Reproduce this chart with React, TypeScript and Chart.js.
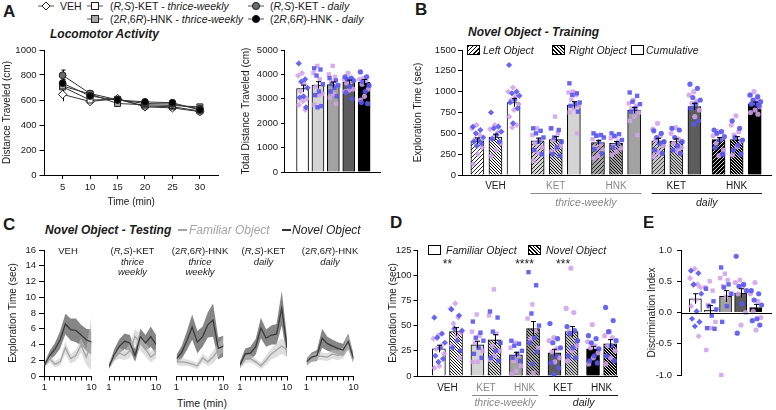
import React, { useEffect, useRef } from 'react';
import { Chart, registerables } from 'chart.js';

Chart.register(...registerables);

const FONT = "'Liberation Sans', Arial, Helvetica, sans-serif";
Chart.defaults.font.family = FONT;
Chart.defaults.color = '#1a1a1a';

/* ======================= DATA ======================= */
const GROUP_LABELS = ['VEH', 'KET', 'HNK', 'KET', 'HNK'];

// A – locomotor activity, 5-min bins
const A_TIME = [5, 10, 15, 20, 25, 30];
const A_VEH = [645, 588, 612, 545, 537, 507];
const A_KET_THRICE = [705, 600, 605, 552, 546, 512];
const A_HNK_THRICE = [712, 648, 572, 562, 556, 545];
const A_KET_DAILY = [798, 652, 602, 572, 568, 530];
const A_HNK_DAILY = [735, 632, 600, 585, 578, 520];
const A_VEH_SEM = [55, 22, 15, 14, 12, 12];
const A_KET_THRICE_SEM = [30, 20, 15, 14, 12, 12];
const A_HNK_THRICE_SEM = [30, 18, 14, 12, 12, 12];
const A_KET_DAILY_SEM = [42, 18, 14, 12, 12, 12];
const A_HNK_DAILY_SEM = [30, 18, 14, 12, 12, 12];

// A – total distance
const A_TOTAL = [3420, 3560, 3580, 3680, 3680];
const A_TOTAL_SEM = [140, 140, 110, 85, 110];
const A_TOTAL_BLUE = [
  [4450, 3800, 3700, 3450, 3100, 3050, 2650],
  [4250, 4200, 3950, 3600, 3300, 3150, 2700, 2650],
  [3850, 3750, 3600, 3550, 3450, 3300, 3100],
  [3900, 3850, 3800, 3750, 3500, 3250, 3000],
  [4100, 3900, 3700, 3550, 3300, 2850, 2800],
];
const A_TOTAL_PINK = [
  [4050, 3950, 3600, 3300, 3000, 2900, 2750, 2550],
  [4350, 4050, 3800, 3500, 3200, 3150, 2750],
  [4350, 4000, 3900, 3700, 3550, 3200, 3050, 2800],
  [4050, 3800, 3700, 3650, 3400, 3350, 3300],
  [3850, 3800, 3750, 3600, 3400, 3100, 2950],
];

// B – training
const B_LEFT = [410, 410, 390, 410, 425];
const B_RIGHT = [455, 425, 380, 405, 425];
const B_CUM = [870, 840, 775, 820, 855];
const B_LEFT_SEM = [35, 32, 25, 30, 25];
const B_RIGHT_SEM = [35, 35, 22, 28, 35];
const B_CUM_SEM = [50, 40, 35, 40, 20];
const B_LEFT_BLUE = [[580, 540, 500, 450, 420, 400, 380, 350], [560, 530, 500, 450, 400, 300, 250], [500, 480, 470, 450, 400, 310, 260], [530, 500, 450, 400, 380, 300, 260], [540, 520, 500, 460, 420, 330, 250]];
const B_LEFT_PINK = [[600, 560, 480, 430, 330, 250, 130], [560, 480, 430, 380, 330, 260, 170], [480, 430, 370, 330, 300, 230, 200], [620, 550, 470, 420, 350, 270, 220], [520, 470, 430, 380, 300, 230]];
const B_RIGHT_BLUE = [[750, 580, 560, 520, 480, 430, 400], [560, 540, 450, 400, 330, 250, 230], [500, 490, 470, 420, 380, 330], [560, 540, 450, 400, 350, 300, 260], [650, 560, 450, 420, 360, 300, 250]];
const B_RIGHT_PINK = [[600, 550, 510, 450, 380, 300, 230], [700, 560, 500, 420, 350, 320, 280], [460, 440, 400, 350, 320, 280, 240], [570, 500, 430, 380, 330, 290], [710, 600, 520, 480, 410, 340, 240]];
const B_CUM_BLUE = [[1320, 1000, 980, 950, 900, 870, 800, 620], [1100, 980, 960, 870, 850, 830, 760], [990, 950, 880, 850, 800, 760], [1090, 1040, 930, 900, 850, 800, 650, 610], [960, 940, 900, 880, 860, 850, 830]];
const B_CUM_PINK = [[1050, 1000, 940, 900, 850, 780, 700, 600, 570], [1000, 990, 960, 900, 830, 800, 750, 500], [900, 860, 830, 800, 750, 700, 650, 480], [1000, 960, 880, 860, 780, 700], [1000, 960, 910, 870, 820, 780, 750, 730]];

// C – testing time course (per minute)
const C_MINUTES = [1, 2, 3, 4, 5, 6, 7, 8, 9, 10];
const C_TITLES = [['VEH'], ['(R,S)-KET', 'thrice', 'weekly'], ['(2R,6R)-HNK', 'thrice', 'weekly'], ['(R,S)-KET', 'daily'], ['(2R,6R)-HNK', 'daily']];
const C_NOVEL = [
  [1.4, 2.6, 3.4, 4.6, 6.6, 5.9, 5.8, 5.2, 4.6, 4.3],
  [1.2, 2.7, 3.8, 4.4, 4.2, 2.6, 5.0, 4.2, 5.0, 4.0],
  [2.2, 3.0, 4.5, 6.2, 4.3, 5.0, 6.5, 7.1, 3.5, 3.8],
  [1.4, 2.8, 2.9, 3.7, 6.1, 4.8, 5.2, 5.3, 8.6, 3.6],
  [1.8, 2.4, 2.6, 4.8, 4.1, 3.8, 3.5, 3.3, 4.4, 2.2],
];
const C_NOVEL_SEM = [
  [0.3, 0.6, 0.8, 1.1, 1.3, 1.4, 1.5, 1.3, 1.4, 1.6],
  [0.3, 0.7, 0.9, 1.0, 1.0, 0.8, 1.0, 1.0, 1.3, 1.2],
  [0.5, 0.8, 1.2, 1.6, 1.4, 1.3, 1.6, 2.1, 1.4, 1.3],
  [0.4, 0.7, 0.8, 1.0, 1.3, 1.1, 1.2, 1.3, 2.2, 1.3],
  [0.4, 0.6, 0.7, 1.2, 0.9, 0.8, 0.8, 0.8, 1.0, 0.6],
];
const C_FAMILIAR = [
  [1.5, 2.2, 1.5, 1.8, 3.6, 2.2, 2.6, 3.9, 2.4, 4.2],
  [1.4, 2.4, 2.9, 2.6, 3.2, 5.0, 4.2, 3.4, 2.4, 2.9],
  [1.8, 1.8, 1.7, 1.5, 1.3, 2.3, 1.8, 2.4, 3.3, 4.0],
  [1.3, 2.1, 2.2, 1.8, 1.3, 2.0, 2.8, 3.3, 3.8, 3.3],
  [1.6, 2.3, 2.5, 2.5, 2.4, 2.8, 2.6, 2.9, 4.3, 2.0],
];
const C_FAMILIAR_SEM = [
  [0.4, 0.5, 0.4, 0.5, 0.8, 0.6, 0.7, 0.9, 1.0, 3.5],
  [0.3, 0.5, 0.7, 0.6, 0.9, 1.0, 1.0, 0.9, 0.7, 0.6],
  [0.4, 0.5, 0.4, 0.4, 0.4, 0.6, 0.5, 0.8, 0.9, 0.9],
  [0.3, 0.5, 0.5, 0.4, 0.4, 0.6, 0.7, 0.9, 1.0, 0.9],
  [0.4, 0.5, 0.5, 0.5, 0.5, 0.6, 0.6, 0.7, 0.9, 0.5],
];

// D – testing totals
const D_FAM = [27, 31, 21, 23, 27];
const D_NOV = [44, 36, 47, 44, 32];
const D_FAM_SEM = [3.5, 3.5, 2.5, 3.5, 2.5];
const D_NOV_SEM = [4, 5, 7, 5, 4];
const D_STARS = ['**', '', '****', '***', ''];
const D_FAM_BLUE = [[58, 42, 38, 33, 28, 20, 17, 14], [54, 43, 38, 35, 28, 22, 18], [35, 32, 30, 25, 22, 18, 15], [52, 37, 33, 28, 20, 13, 8, 2], [40, 37, 33, 27, 20, 15, 13]];
const D_FAM_PINK = [[40, 37, 30, 27, 22, 10, 8], [61, 44, 40, 33, 25, 14, 14], [33, 28, 20, 15, 10, 5, 2], [38, 35, 27, 24, 18, 14], [51, 34, 30, 28, 23, 18, 12]];
const D_NOV_BLUE = [[66, 60, 47, 45, 35, 28, 25], [64, 58, 44, 33, 25, 18, 15], [103, 90, 62, 50, 38, 33, 24, 12], [49, 45, 42, 35, 28, 20, 18], [68, 55, 44, 35, 30, 20, 15]];
const D_NOV_PINK = [[72, 67, 58, 52, 43, 40, 30, 18], [86, 60, 42, 30, 25, 20, 16], [71, 57, 45, 37, 28, 3], [107, 67, 63, 44, 30, 25, 15], [44, 40, 38, 30, 25, 18, 12]];

// E – discrimination index
const E_DI = [0.22, 0.04, 0.26, 0.31, 0.08];
const E_SEM = [0.08, 0.07, 0.09, 0.07, 0.05];
const E_BLUE = [[0.67, 0.63, 0.45, 0.3, 0.02, -0.1, -0.15, -0.22], [0.38, 0.18, 0.1, 0.05, -0.05, -0.25, -0.26], [0.72, 0.45, 0.4, 0.3, 0.1, -0.15], [0.9, 0.45, 0.42, 0.35, 0.14, -0.33], [0.35, 0.3, 0.2, 0.12, -0.1, -0.13, -0.2]];
const E_PINK = [[0.7, 0.55, 0.45, 0.44, 0.4, 0.2, 0.1, -0.38], [0.5, 0.4, 0.35, 0.12, -0.15, -0.25, -0.6], [0.62, 0.55, 0.52, 0.42, 0.3, 0.25, -1.0], [0.52, 0.48, 0.42, 0.3, 0.0, -0.2], [0.48, 0.3, 0.18, 0.02, -0.08, -0.28]];

/* ======================= STYLE ======================= */
const BLUE = 'rgba(86,86,240,0.9)';
const PINK = 'rgba(212,162,234,0.88)';
const GROUP_FILL = ['#ffffff', '#d4d4d4', '#a2a2a2', '#5c5c5c', '#000000'];
const HATCH_COLORS: [string, string][] = [['#ffffff', '#111111'], ['#d4d4d4', '#111111'], ['#a2a2a2', '#111111'], ['#c4c4c4', '#2a2a2a'], ['#000000', '#e8e8e8']];
const GROUP_SHAPE = ['rectRot', 'rect', 'rect', 'circle', 'circle'];
const TICK_COLORS = ['#1a1a1a', '#888888', '#888888', '#1a1a1a', '#1a1a1a'];
const TICK_FONT = { family: FONT, size: 9.5 };
const TITLE_FONT = { family: FONT, size: 10 };

type Area = { x0: number; y0: number; x1: number; y1: number };
type Pad = { l: number; r: number; t: number; b: number };
function frame(a: Area, yW: number, xH: number, p: Pad) {
  const left = Math.floor(a.x0 - yW - p.l);
  const top = Math.floor(a.y0 - p.t);
  const right = Math.ceil(a.x1 + p.r);
  const bottom = Math.ceil(a.y1 + xH + p.b);
  return {
    rect: { left, top, width: right - left, height: bottom - top },
    padding: { left: a.x0 - yW - left, top: a.y0 - top, right: right - a.x1, bottom: bottom - a.y1 - xH },
    yW, xH,
  };
}

const F_AL = frame({ x0: 44.5, y0: 50, x1: 218, y1: 175 }, 43.5, 33, { l: 1, r: 6, t: 8, b: 2 });
const F_AR = frame({ x0: 285, y0: 50, x1: 380, y1: 172 }, 44.3, 3, { l: 1, r: 4, t: 8, b: 2 });
const F_B = frame({ x0: 462, y0: 50, x1: 773, y1: 175 }, 49.7, 36, { l: 1, r: 2, t: 8, b: 2 });
const C_X0 = [44.5, 109, 176.5, 240, 306.5];
const F_C = C_X0.map((x0, i) => frame({ x0, y0: 250, x1: x0 + 47, y1: 376 }, i === 0 ? 37.5 : 0, 14, { l: i === 0 ? 1 : 5, r: 7, t: 4, b: 2 }));
const F_D = frame({ x0: 417, y0: 250, x1: 617, y1: 376 }, 29.5, 36, { l: 1, r: 4, t: 6, b: 0 });
const F_E = frame({ x0: 681, y0: 250, x1: 776, y1: 375 }, 35, 0, { l: 1, r: 0, t: 6, b: 6 });

/* ======================= HELPERS ======================= */
const fixW = (w: number) => (s: any) => { s.width = w; s.paddingTop = 0; s.paddingBottom = 0; s.paddingLeft = 0; s.paddingRight = 0; };
const fixH = (h: number) => (s: any) => { s.height = h; s.paddingTop = 0; s.paddingBottom = 0; s.paddingLeft = 0; s.paddingRight = 0; };

function base(padding: any) {
  return {
    responsive: false, animation: false, devicePixelRatio: 1, events: [],
    layout: { padding },
    plugins: { legend: { display: false }, tooltip: { enabled: false } },
  };
}

function yAxis(min: number, max: number, step: number, w: number, title: string, tickLen: number, pad: number, fmt?: (v: number) => string) {
  return {
    type: 'linear', min, max, afterFit: fixW(w),
    border: { color: '#000', width: 1 },
    grid: { drawOnChartArea: false, drawTicks: true, tickLength: tickLen, color: '#000' },
    ticks: { stepSize: step, padding: pad, color: '#1a1a1a', font: TICK_FONT, callback: (v: number) => (fmt ? fmt(v) : String(v)) },
    title: { display: true, text: title, color: '#1a1a1a', font: TITLE_FONT, padding: 0 },
  };
}

function xCat(min: number, max: number, h: number, centers: number[], pad: number) {
  return {
    type: 'linear', min, max, offset: false, afterFit: fixH(h),
    afterBuildTicks: (s: any) => { s.ticks = centers.map((v) => ({ value: v })); },
    border: { color: '#000', width: 1 },
    grid: { offset: false, drawOnChartArea: false, drawTicks: false },
    ticks: { autoSkip: false, maxRotation: 0, padding: pad, font: { family: FONT, size: 10 }, color: (c: any) => TICK_COLORS[c.index] || '#1a1a1a', callback: (_v: number, i: number) => GROUP_LABELS[i] },
  };
}

function hatch(bg: string, fg: string, dir: number, size: number, lw: number) {
  const c = document.createElement('canvas');
  c.width = size; c.height = size;
  const g = c.getContext('2d')!;
  g.fillStyle = bg; g.fillRect(0, 0, size, size);
  g.strokeStyle = fg; g.lineWidth = lw;
  g.beginPath();
  if (dir > 0) {
    g.moveTo(-1, size + 1); g.lineTo(size + 1, -1);
    g.moveTo(-size / 2 - 1, size / 2 + 1); g.lineTo(size / 2 + 1, -size / 2 - 1);
    g.moveTo(size / 2 - 1, size * 1.5 + 1); g.lineTo(size * 1.5 + 1, size / 2 - 1);
  } else {
    g.moveTo(-1, -1); g.lineTo(size + 1, size + 1);
    g.moveTo(-size / 2 - 1, size / 2 - 1); g.lineTo(size / 2 + 1, size * 1.5 + 1);
    g.moveTo(size / 2 - 1, -size / 2 - 1); g.lineTo(size * 1.5 + 1, size / 2 + 1);
  }
  g.stroke();
  return g.createPattern(c, 'repeat')!;
}

const spread = (j: number, n: number, c: number) => (n < 2 ? 0 : (((j * 0.618 + c * 0.31 + 0.13) % 1) * 2 - 1));

function dotSets(xs: number[], blue: number[][], pink: number[][], half: number, shapes: string[]) {
  const out: any[] = [];
  xs.forEach((x, i) => {
    const pairs: [number[], string][] = [[blue[i], BLUE], [pink[i], PINK]];
    pairs.forEach(([vals, col], c) => {
      out.push({
        type: 'scatter',
        data: vals.map((v, j) => ({ x: x + spread(j, vals.length, c) * half, y: v })),
        pointStyle: shapes[i], pointRadius: shapes[i] === 'circle' ? 2.6 : 3.1,
        pointBackgroundColor: col, pointBorderWidth: 0, borderWidth: 0, showLine: false, clip: false,
      });
    });
  });
  return out;
}

function errPlugin(items: { x: number; y: number; e: number }[], hook: string, cap = 2.5) {
  return {
    id: 'errbars',
    [hook](chart: any) {
      const { ctx, scales } = chart;
      ctx.save();
      ctx.strokeStyle = '#000'; ctx.lineWidth = 1;
      for (const it of items) {
        const px = Math.round(scales.x.getPixelForValue(it.x)) + 0.5;
        const t = scales.y.getPixelForValue(it.y + it.e);
        const b = scales.y.getPixelForValue(it.y - it.e);
        ctx.beginPath();
        ctx.moveTo(px, t); ctx.lineTo(px, b);
        ctx.moveTo(px - cap, t); ctx.lineTo(px + cap, t);
        ctx.stroke();
      }
      ctx.restore();
    },
  };
}

function bracketPlugin(items: { from: number; to: number; label: string; color: string }[], lineDy: number, textDy: number) {
  return {
    id: 'brackets',
    afterDraw(chart: any) {
      const { ctx, scales, chartArea } = chart;
      ctx.save();
      for (const it of items) {
        const a = scales.x.getPixelForValue(it.from), b = scales.x.getPixelForValue(it.to);
        const ly = Math.round(chartArea.bottom + lineDy) + 0.5;
        ctx.strokeStyle = it.color; ctx.lineWidth = 1;
        ctx.beginPath(); ctx.moveTo(a, ly); ctx.lineTo(b, ly); ctx.stroke();
        ctx.fillStyle = it.color; ctx.font = `italic 10.5px ${FONT}`;
        ctx.textAlign = 'center'; ctx.textBaseline = 'middle';
        ctx.fillText(it.label, (a + b) / 2, chartArea.bottom + textDy);
      }
      ctx.restore();
    },
  };
}

/* ======================= CHART BUILDERS ======================= */
function makeALine() {
  const series = [
    { m: A_HNK_DAILY, s: A_HNK_DAILY_SEM, shape: 'circle', fill: '#000000', r: 3.4 },
    { m: A_KET_DAILY, s: A_KET_DAILY_SEM, shape: 'circle', fill: '#6a6a6a', r: 3.4 },
    { m: A_HNK_THRICE, s: A_HNK_THRICE_SEM, shape: 'rect', fill: '#a8a8a8', r: 4.2 },
    { m: A_KET_THRICE, s: A_KET_THRICE_SEM, shape: 'rect', fill: '#ffffff', r: 4.2 },
    { m: A_VEH, s: A_VEH_SEM, shape: 'rectRot', fill: '#ffffff', r: 4.2 },
  ];
  const errs: any[] = [];
  series.forEach((sr) => sr.m.forEach((v, j) => errs.push({ x: A_TIME[j], y: v, e: sr.s[j] })));
  return {
    type: 'line',
    data: {
      datasets: series.map((sr) => ({
        data: sr.m.map((v, j) => ({ x: A_TIME[j], y: v })),
        borderColor: '#333', borderWidth: 1, pointStyle: sr.shape, pointRadius: sr.r,
        pointBackgroundColor: sr.fill, pointBorderColor: '#222', pointBorderWidth: 1, fill: false,
      })),
    },
    options: {
      ...base(F_AL.padding),
      scales: {
        x: {
          type: 'linear', min: 1.7, max: 33.3, afterFit: fixH(F_AL.xH),
          afterBuildTicks: (s: any) => { s.ticks = A_TIME.map((v) => ({ value: v })); },
          border: { color: '#000', width: 1 },
          grid: { drawOnChartArea: false, tickLength: 4, color: '#000' },
          ticks: { padding: 3, font: TICK_FONT, color: '#1a1a1a', autoSkip: false, maxRotation: 0, callback: (v: number) => String(v) },
          title: { display: true, text: 'Time (min)', font: TITLE_FONT, color: '#1a1a1a', padding: 0 },
        },
        y: yAxis(0, 1000, 200, F_AL.yW, 'Distance Traveled (cm)', 5, 3),
      },
    },
    plugins: [errPlugin(errs, 'beforeDatasetsDraw', 2)],
  };
}

function makeARight() {
  const xs = [1, 2, 3, 4, 5];
  return {
    type: 'bar',
    data: {
      datasets: [
        ...dotSets(xs, A_TOTAL_BLUE, A_TOTAL_PINK, 0.33, GROUP_SHAPE),
        { type: 'bar', data: xs.map((x, i) => ({ x, y: A_TOTAL[i] })), backgroundColor: GROUP_FILL, borderColor: '#000', borderWidth: 1, barThickness: 12 },
      ],
    },
    options: {
      ...base(F_AR.padding),
      scales: {
        x: { type: 'linear', min: -0.14, max: 6.03, offset: false, afterFit: fixH(F_AR.xH), border: { color: '#000', width: 1 }, grid: { offset: false, display: true, drawOnChartArea: false, drawTicks: false }, ticks: { display: false } },
        y: yAxis(0, 5000, 1000, F_AR.yW, 'Total Distance Traveled (cm)', 4, 3),
      },
    },
    plugins: [errPlugin(xs.map((x, i) => ({ x, y: A_TOTAL[i], e: A_TOTAL_SEM[i] })), 'afterDatasetsDraw')],
  };
}

function makeB() {
  const xs: number[] = [], ys: number[] = [], es: number[] = [], fills: any[] = [], blue: number[][] = [], pink: number[][] = [], shapes: string[] = [];
  for (let g = 0; g < 5; g++) {
    const [hb, hf] = HATCH_COLORS[g];
    const parts: any[] = [
      [B_LEFT[g], B_LEFT_SEM[g], hatch(hb, hf, 1, 4, 0.9), B_LEFT_BLUE[g], B_LEFT_PINK[g]],
      [B_RIGHT[g], B_RIGHT_SEM[g], hatch(hb, hf, -1, 3, 1.0), B_RIGHT_BLUE[g], B_RIGHT_PINK[g]],
      [B_CUM[g], B_CUM_SEM[g], GROUP_FILL[g], B_CUM_BLUE[g], B_CUM_PINK[g]],
    ];
    parts.forEach((p, k) => {
      xs.push(g + (k - 1) * 0.3); ys.push(p[0]); es.push(p[1]); fills.push(p[2]);
      blue.push(p[3]); pink.push(p[4]); shapes.push(GROUP_SHAPE[g]);
    });
  }
  return {
    type: 'bar',
    data: {
      datasets: [
        ...dotSets(xs, blue, pink, 0.1, shapes),
        { type: 'bar', data: xs.map((x, i) => ({ x, y: ys[i] })), backgroundColor: fills, borderColor: '#000', borderWidth: 1, barThickness: 13 },
      ],
    },
    options: {
      ...base(F_B.padding),
      scales: {
        x: xCat(-0.555, 4.57, F_B.xH, [0, 1, 2, 3, 4], 5),
        y: yAxis(0, 1500, 250, F_B.yW, 'Exploration Time (sec)', 4, 2),
      },
    },
    plugins: [
      errPlugin(xs.map((x, i) => ({ x, y: ys[i], e: es[i] })), 'afterDatasetsDraw'),
      bracketPlugin([
        { from: 0.58, to: 2.42, label: 'thrice-weekly', color: '#888888' },
        { from: 2.59, to: 4.42, label: 'daily', color: '#1a1a1a' },
      ], 18, 28),
    ],
  };
}

function makeC(i: number) {
  const f = F_C[i];
  const pts = (arr: number[]) => arr.map((y, j) => ({ x: C_MINUTES[j], y }));
  const up = (m: number[], s: number[]) => m.map((v, j) => v + s[j]);
  const lo = (m: number[], s: number[]) => m.map((v, j) => Math.max(0, v - s[j]));
  const band = { borderWidth: 0, borderColor: 'rgba(0,0,0,0)', pointRadius: 0 };
  return {
    type: 'line',
    data: {
      datasets: [
        { data: pts(C_NOVEL[i]), borderColor: '#3a3a3a', borderWidth: 1.3, pointRadius: 0, fill: false },
        { data: pts(C_FAMILIAR[i]), borderColor: '#a4a4a4', borderWidth: 1.3, pointRadius: 0, fill: false },
        { ...band, data: pts(up(C_FAMILIAR[i], C_FAMILIAR_SEM[i])), fill: false },
        { ...band, data: pts(lo(C_FAMILIAR[i], C_FAMILIAR_SEM[i])), fill: 2, backgroundColor: 'rgba(195,195,195,0.55)' },
        { ...band, data: pts(up(C_NOVEL[i], C_NOVEL_SEM[i])), fill: false },
        { ...band, data: pts(lo(C_NOVEL[i], C_NOVEL_SEM[i])), fill: 4, backgroundColor: 'rgba(92,92,92,0.74)' },
      ],
    },
    options: {
      ...base(f.padding),
      scales: {
        x: {
          type: 'linear', min: 1, max: 10, afterFit: fixH(f.xH),
          afterBuildTicks: (s: any) => { s.ticks = C_MINUTES.map((v) => ({ value: v })); },
          border: { color: '#000', width: 1 },
          grid: { drawOnChartArea: false, tickLength: 4.5, color: '#000' },
          ticks: { padding: 1, autoSkip: false, maxRotation: 0, font: TICK_FONT, color: '#1a1a1a', callback: (v: number) => (v === 1 || v === 10 ? String(v) : '') },
        },
        y: i === 0 ? yAxis(0, 16, 2, f.yW, 'Exploration Time (sec)', 5.5, 3) : { type: 'linear', display: false, min: 0, max: 16 },
      },
    },
  };
}

function makeD() {
  const xs: number[] = [], ys: number[] = [], es: number[] = [], fills: any[] = [], blue: number[][] = [], pink: number[][] = [], shapes: string[] = [];
  for (let g = 0; g < 5; g++) {
    const [hb, hf] = HATCH_COLORS[g];
    xs.push(g - 0.222, g + 0.222);
    ys.push(D_FAM[g], D_NOV[g]);
    es.push(D_FAM_SEM[g], D_NOV_SEM[g]);
    fills.push(GROUP_FILL[g], hatch(hb, hf, -1, 3, 1.0));
    blue.push(D_FAM_BLUE[g], D_NOV_BLUE[g]);
    pink.push(D_FAM_PINK[g], D_NOV_PINK[g]);
    shapes.push(GROUP_SHAPE[g], GROUP_SHAPE[g]);
  }
  const stars = {
    id: 'stars',
    afterDatasetsDraw(chart: any) {
      const { ctx, scales } = chart;
      ctx.save();
      ctx.fillStyle = '#1a1a1a'; ctx.font = `12px ${FONT}`; ctx.textAlign = 'center'; ctx.textBaseline = 'middle';
      D_STARS.forEach((s, g) => { if (s) ctx.fillText(s, scales.x.getPixelForValue(g), scales.y.getPixelForValue(110)); });
      ctx.restore();
    },
  };
  return {
    type: 'bar',
    data: {
      datasets: [
        ...dotSets(xs, blue, pink, 0.16, shapes),
        { type: 'bar', data: xs.map((x, i) => ({ x, y: ys[i] })), backgroundColor: fills, borderColor: '#000', borderWidth: 1, barThickness: 13 },
      ],
    },
    options: {
      ...base(F_D.padding),
      scales: {
        x: xCat(-0.79, 4.4, F_D.xH, [0, 1, 2, 3, 4], 6),
        y: yAxis(0, 125, 25, F_D.yW, 'Exploration Time (sec)', 3.5, 2),
      },
    },
    plugins: [
      errPlugin(xs.map((x, i) => ({ x, y: ys[i], e: es[i] })), 'afterDatasetsDraw'),
      stars,
      bracketPlugin([
        { from: 0.64, to: 2.35, label: 'thrice-weekly', color: '#888888' },
        { from: 2.64, to: 4.43, label: 'daily', color: '#1a1a1a' },
      ], 19, 27),
    ],
  };
}

function makeE() {
  const xs = [1, 2, 3, 4, 5];
  const zero = {
    id: 'zero',
    afterDatasetsDraw(chart: any) {
      const { ctx, scales, chartArea } = chart;
      const y = Math.round(scales.y.getPixelForValue(0)) + 0.5;
      ctx.save(); ctx.strokeStyle = '#000'; ctx.lineWidth = 1;
      ctx.beginPath(); ctx.moveTo(chartArea.left, y); ctx.lineTo(chartArea.right, y); ctx.stroke();
      ctx.restore();
    },
  };
  return {
    type: 'bar',
    data: {
      datasets: [
        ...dotSets(xs, E_BLUE, E_PINK, 0.4, GROUP_SHAPE),
        { type: 'bar', data: xs.map((x, i) => ({ x, y: E_DI[i] })), backgroundColor: GROUP_FILL, borderColor: '#000', borderWidth: 1, barThickness: 12 },
      ],
    },
    options: {
      ...base(F_E.padding),
      scales: {
        x: { type: 'linear', display: false, min: 0.045, max: 6.08, offset: false, grid: { offset: false } },
        y: yAxis(-1, 1, 0.5, F_E.yW, 'Discrimination Index', 4, 5, (v) => v.toFixed(1)),
      },
    },
    plugins: [zero, errPlugin(xs.map((x, i) => ({ x, y: E_DI[i], e: E_SEM[i] })), 'afterDatasetsDraw')],
  };
}

/* ======================= COMPONENTS ======================= */
type Rect = { left: number; top: number; width: number; height: number };
function ChartBox({ rect, make }: { rect: Rect; make: () => any }) {
  const ref = useRef<HTMLCanvasElement | null>(null);
  useEffect(() => {
    const chart = new Chart(ref.current as HTMLCanvasElement, make());
    return () => chart.destroy();
  }, []);
  return (
    <canvas ref={ref} width={rect.width} height={rect.height}
      style={{ position: 'absolute', left: rect.left, top: rect.top, width: rect.width, height: rect.height }} />
  );
}

function T({ x, y, children, size = 10.5, bold = false, italic = false, color = '#1a1a1a', center = false }: any) {
  return (
    <div style={{
      position: 'absolute', left: x, top: y, transform: `translate(${center ? '-50%' : '0'}, -50%)`,
      fontFamily: FONT, fontSize: size, fontWeight: bold ? 700 : 400, fontStyle: italic ? 'italic' : 'normal',
      color, whiteSpace: 'nowrap', lineHeight: 1,
    }}>{children}</div>
  );
}

function LegendMark({ x, y, shape, fill }: { x: number; y: number; shape: string; fill: string }) {
  return (
    <svg style={{ position: 'absolute', left: x, top: y - 6 }} width={16} height={12}>
      <line x1={0} y1={6} x2={16} y2={6} stroke="#555" strokeWidth={1} />
      {shape === 'diamond' && <polygon points="8,2 12,6 8,10 4,6" fill={fill} stroke="#222" strokeWidth={1} />}
      {shape === 'square' && <rect x={4.5} y={2.5} width={7} height={7} fill={fill} stroke="#222" strokeWidth={1} />}
      {shape === 'circle' && <circle cx={8} cy={6} r={3.6} fill={fill} stroke="#222" strokeWidth={1} />}
    </svg>
  );
}

function Box({ x, y, bg }: { x: number; y: number; bg: string }) {
  return <div style={{ position: 'absolute', left: x, top: y - 5, width: 11, height: 8, border: '1px solid #000', background: bg }} />;
}

const HATCH_L = 'repeating-linear-gradient(135deg, #000 0 1px, #fff 1px 3px)';
const HATCH_R = 'repeating-linear-gradient(45deg, #000 0 1.2px, #fff 1.2px 2.6px)';

export default function App() {
  return (
    <div style={{ position: 'absolute', left: 0, top: 0, width: 776, height: 410, overflow: 'hidden', background: '#fff' }}>
      <ChartBox rect={F_AL.rect} make={makeALine} />
      <ChartBox rect={F_AR.rect} make={makeARight} />
      <ChartBox rect={F_B.rect} make={makeB} />
      {F_C.map((f, i) => <ChartBox key={i} rect={f.rect} make={() => makeC(i)} />)}
      <ChartBox rect={F_D.rect} make={makeD} />
      <ChartBox rect={F_E.rect} make={makeE} />

      {/* panel letters */}
      <T x={3} y={11} size={17} bold>A</T>
      <T x={415} y={9} size={17} bold>B</T>
      <T x={3} y={224} size={17} bold>C</T>
      <T x={390} y={222} size={17} bold>D</T>
      <T x={643} y={222} size={17} bold>E</T>

      {/* A legend */}
      <LegendMark x={38} y={6} shape="diamond" fill="#fff" />
      <T x={60} y={6}>VEH</T>
      <LegendMark x={87} y={6} shape="square" fill="#fff" />
      <T x={110} y={6}>(<i>R,S</i>)-KET - <i>thrice-weekly</i></T>
      <LegendMark x={248} y={6} shape="circle" fill="#6a6a6a" />
      <T x={270} y={6}>(<i>R,S</i>)-KET - <i>daily</i></T>
      <LegendMark x={87} y={19} shape="square" fill="#a8a8a8" />
      <T x={110} y={19}>(2<i>R</i>,6<i>R</i>)-HNK - <i>thrice-weekly</i></T>
      <LegendMark x={248} y={19} shape="circle" fill="#000" />
      <T x={270} y={19}>(2<i>R</i>,6<i>R</i>)-HNK - <i>daily</i></T>
      <T x={50} y={34} size={12} bold italic>Locomotor Activity</T>

      {/* B title & legend */}
      <T x={468} y={32} size={12} bold italic>Novel Object - Training</T>
      <Box x={467} y={50} bg={HATCH_L} />
      <T x={483} y={50} size={10.5} italic>Left Object</T>
      <Box x={552} y={50} bg={HATCH_R} />
      <T x={569} y={50} size={10.5} italic>Right Object</T>
      <Box x={631} y={50} bg="#fff" />
      <T x={646} y={50} size={10.5} italic>Cumulative</T>

      {/* C title & legend */}
      <T x={45} y={230} size={12} bold italic>Novel Object - Testing</T>
      <div style={{ position: 'absolute', left: 178, top: 229, width: 9, height: 2, background: '#a4a4a4' }} />
      <T x={189} y={230} size={12} italic color="#a4a4a4">Familiar Object</T>
      <div style={{ position: 'absolute', left: 282, top: 229, width: 9, height: 2, background: '#333' }} />
      <T x={292} y={230} size={12} italic color="#222">Novel Object</T>
      {C_TITLES.map((lines, i) => {
        const cx = C_X0[i] + 23.5;
        return (
          <React.Fragment key={i}>
            {lines[0] === '(R,S)-KET' ? <T x={cx} y={251} size={9.5} center>(<i>R,S</i>)-KET</T>
              : lines[0] === '(2R,6R)-HNK' ? <T x={cx} y={251} size={9.5} center>(2<i>R</i>,6<i>R</i>)-HNK</T>
              : <T x={cx} y={251} size={9.5} center>{lines[0]}</T>}
            {lines.slice(1).map((l, k) => <T key={k} x={cx} y={262 + k * 9.5} size={9.5} italic center>{l}</T>)}
          </React.Fragment>
        );
      })}
      <T x={202} y={403} size={10.5} center>Time (min)</T>

      {/* D legend */}
      <Box x={428} y={250} bg="#fff" />
      <T x={446} y={250} size={10.5} italic>Familiar Object</T>
      <Box x={528} y={250} bg={HATCH_R} />
      <T x={546} y={250} size={10.5} italic>Novel Object</T>
    </div>
  );
}
